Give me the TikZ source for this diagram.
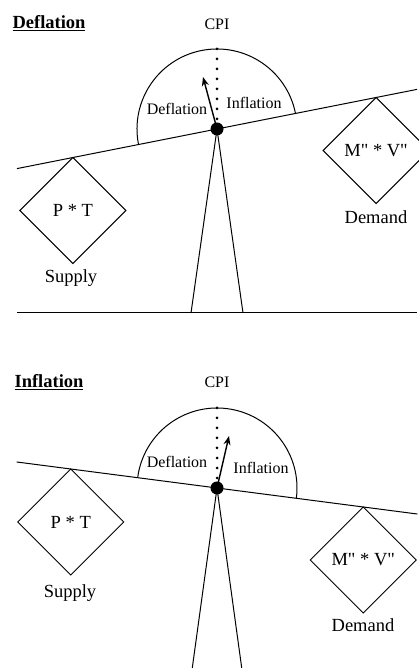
\documentclass[tikz,border=0pt]{standalone}
\usepackage{fontspec}
\setmainfont{Liberation Serif}[Ligatures=TeXOff]
\usetikzlibrary{shapes.geometric,arrows.meta,calc}
\begin{document}
\begin{tikzpicture}[x=1pt,y=1pt,line width=1pt,
  big/.style={font=\fontsize{18.5}{22}\selectfont,inner sep=0},
  small/.style={font=\fontsize{16}{19}\selectfont,inner sep=0},
  box/.style={diamond,draw,minimum width=106pt,minimum height=106pt,inner sep=0,outer sep=0,anchor=north,font=\fontsize{18.5}{22}\selectfont},
  dot/.style={circle,fill,minimum size=13pt,inner sep=0},
  dots/.style={line width=3pt,line cap=round,dash pattern=on 0pt off 10pt},
  needle/.style={-{Stealth[length=9pt,width=7pt]},line width=1.4pt}]
\clip (0,0) rectangle (419,668);
% ---------- top panel: Deflation ----------
\node[big] (title1) at (49,645) {\underline{\textbf{Deflation}}};
\node[small] (cpi1) at (217,644) {CPI};
\coordinate (c1) at (217,539);
\path (c1) ++(191.2:204) coordinate (bl1);
\path (c1) ++(11.2:204) coordinate (br1);
\coordinate (t1) at (217,619);
\coordinate (a1) at (203,591);
\coordinate (f1l) at (191,355);
\coordinate (f1r) at (243,355);
\coordinate (g1l) at (17,355);
\coordinate (g1r) at (417,355);
\draw (c1) ++(11.2:80) arc[start angle=11.2,end angle=191.2,radius=80];
\draw (bl1) -- (br1);
\draw (f1l) -- (c1) -- (f1r);
\draw (g1l) -- (g1r);
\draw[dots] (t1) -- ($(c1)+(0,8)$);
\draw[needle] (c1) -- (a1);
\node[small] (def1) at (177,559) {Deflation};
\node[small] (inf1) at (254,565) {Inflation};
\node[box] (s1) at ($(bl1)!0.14!(br1)$) {P * T};
\node[big] (sl1) at (71,390) {Supply};
\node[box] (d1) at ($(bl1)!0.8975!(br1)$) {M" * V"};
\node[big] (dl1) at (376,451) {Demand};
\node[dot] (p1) at (c1) {};
% ---------- bottom panel: Inflation ----------
\node[big] (title2) at (49,286) {\underline{\textbf{Inflation}}};
\node[small] (cpi2) at (217,286) {CPI};
\coordinate (c2) at (217,180);
\path (c2) ++(172.6:202) coordinate (bl2);
\path (c2) ++(-7.4:202) coordinate (br2);
\coordinate (t2) at (217,260);
\coordinate (a2) at (229,232);
\coordinate (f2l) at (192,-2);
\coordinate (f2r) at (242,-2);
\draw (c2) ++(-7.4:80) arc[start angle=-7.4,end angle=172.6,radius=80];
\draw (bl2) -- (br2);
\draw (f2l) -- (c2) -- (f2r);
\draw[dots] (t2) -- ($(c2)+(0,8)$);
\draw[needle] (c2) -- (a2);
\node[small] (def2) at (177,206) {Deflation};
\node[small] (inf2) at (261,200) {Inflation};
\node[box] (s2) at ($(bl2)!0.135!(br2)$) {P * T};
\node[big] (sl2) at (70,75) {Supply};
\node[box] (d2) at ($(bl2)!0.865!(br2)$) {M" * V"};
\node[big] (dl2) at (363,43) {Demand};
\node[dot] (p2) at (c2) {};
\end{tikzpicture}
\end{document}
